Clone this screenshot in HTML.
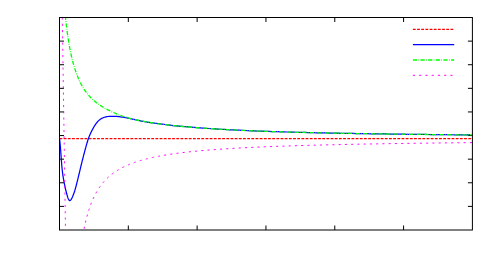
<!DOCTYPE html>
<html><head><meta charset="utf-8"><title>plot</title>
<style>
html,body{margin:0;padding:0;background:#fff;font-family:"Liberation Sans",sans-serif;}
svg{display:block}
</style></head><body>
<svg width="500" height="279" viewBox="0 0 500 279">
<rect width="500" height="279" fill="#fff"/>
<defs><clipPath id="c"><rect x="59.5" y="17.5" width="412.9" height="212.5"/></clipPath></defs>
<path d="M128.32,230.0 v-4.5 M128.32,17.5 v4.5 M197.13,230.0 v-4.5 M197.13,17.5 v4.5 M265.95,230.0 v-4.5 M265.95,17.5 v4.5 M334.77,230.0 v-4.5 M334.77,17.5 v4.5 M403.58,230.0 v-4.5 M403.58,17.5 v4.5 M59.5,41.11 h4.5 M472.4,41.11 h-4.5 M59.5,64.72 h4.5 M472.4,64.72 h-4.5 M59.5,88.33 h4.5 M472.4,88.33 h-4.5 M59.5,111.94 h4.5 M472.4,111.94 h-4.5 M59.5,135.56 h4.5 M472.4,135.56 h-4.5 M59.5,159.17 h4.5 M472.4,159.17 h-4.5 M59.5,182.78 h4.5 M472.4,182.78 h-4.5 M59.5,206.39 h4.5 M472.4,206.39 h-4.5 " stroke="#000" stroke-width="1" fill="none"/>
<g clip-path="url(#c)" fill="none" stroke-linejoin="round">
<path d="M59.5,138.6 L472.4,138.6" stroke="#ff0000" stroke-width="1.25" stroke-dasharray="2.82 1.351"/>
<path d="M59.50,138.60 L59.60,139.34 L59.69,140.08 L59.78,140.82 L59.86,141.56 L59.94,142.30 L60.02,143.04 L60.10,143.79 L60.17,144.53 L60.24,145.27 L60.31,146.01 L60.38,146.75 L60.44,147.49 L60.50,148.23 L60.56,148.97 L60.62,149.72 L60.68,150.46 L60.73,151.20 L60.79,151.94 L60.84,152.68 L60.89,153.42 L60.94,154.16 L61.00,154.91 L61.05,155.65 L61.10,156.39 L61.15,157.13 L61.20,157.87 L61.25,158.61 L61.31,159.35 L61.36,160.10 L61.41,160.84 L61.47,161.58 L61.53,162.32 L61.58,163.06 L61.64,163.80 L61.71,164.54 L61.77,165.28 L61.83,166.02 L61.90,166.77 L61.97,167.51 L62.05,168.25 L62.12,168.99 L62.20,169.73 L62.28,170.47 L62.37,171.21 L62.46,171.95 L62.55,172.69 L62.64,173.43 L62.74,174.17 L62.85,174.91 L62.96,175.66 L63.07,176.40 L63.19,177.14 L63.31,177.88 L63.43,178.61 L63.56,179.35 L63.69,180.09 L63.83,180.82 L63.97,181.55 L64.11,182.28 L64.25,183.00 L64.39,183.72 L64.54,184.44 L64.69,185.15 L64.83,185.85 L64.98,186.55 L65.13,187.25 L65.28,187.94 L65.44,188.63 L65.60,189.32 L65.76,190.02 L65.93,190.74 L66.11,191.46 L66.30,192.20 L66.50,192.96 L66.71,193.74 L66.93,194.55 L67.17,195.39 L67.43,196.26 L67.70,197.14 L67.99,197.98 L68.29,198.77 L68.61,199.46 L68.95,200.01 L69.30,200.40 L69.67,200.60 L70.05,200.56 L70.44,200.32 L70.84,199.90 L71.24,199.32 L71.64,198.63 L72.04,197.86 L72.42,197.02 L72.78,196.17 L73.12,195.32 L73.44,194.50 L73.74,193.70 L74.02,192.93 L74.28,192.18 L74.52,191.45 L74.75,190.74 L74.96,190.03 L75.17,189.34 L75.36,188.65 L75.55,187.97 L75.74,187.29 L75.92,186.60 L76.11,185.91 L76.29,185.22 L76.47,184.53 L76.65,183.83 L76.83,183.13 L77.01,182.42 L77.19,181.71 L77.36,181.00 L77.54,180.28 L77.72,179.57 L77.89,178.85 L78.07,178.13 L78.24,177.40 L78.42,176.68 L78.59,175.95 L78.77,175.22 L78.94,174.49 L79.12,173.76 L79.29,173.03 L79.47,172.30 L79.64,171.57 L79.82,170.83 L79.99,170.10 L80.16,169.37 L80.34,168.64 L80.51,167.90 L80.69,167.17 L80.86,166.44 L81.04,165.71 L81.22,164.99 L81.39,164.26 L81.57,163.54 L81.75,162.81 L81.92,162.09 L82.10,161.37 L82.28,160.66 L82.46,159.94 L82.64,159.23 L82.82,158.51 L83.01,157.80 L83.19,157.09 L83.37,156.37 L83.56,155.66 L83.74,154.95 L83.93,154.24 L84.12,153.53 L84.31,152.82 L84.50,152.10 L84.69,151.39 L84.88,150.68 L85.07,149.96 L85.27,149.24 L85.47,148.52 L85.66,147.80 L85.86,147.08 L86.07,146.36 L86.27,145.63 L86.47,144.90 L86.68,144.17 L86.89,143.44 L87.10,142.71 L87.32,141.98 L87.54,141.25 L87.76,140.53 L88.00,139.81 L88.23,139.10 L88.48,138.40 L88.73,137.70 L88.99,137.02 L89.26,136.34 L89.53,135.67 L89.81,135.00 L90.10,134.33 L90.40,133.67 L90.71,133.01 L91.03,132.36 L91.35,131.70 L91.68,131.04 L92.02,130.38 L92.37,129.72 L92.73,129.06 L93.09,128.39 L93.47,127.71 L93.85,127.04 L94.25,126.38 L94.66,125.71 L95.08,125.06 L95.51,124.42 L95.95,123.78 L96.41,123.17 L96.88,122.57 L97.37,121.99 L97.87,121.43 L98.39,120.89 L98.93,120.39 L99.48,119.91 L100.05,119.46 L100.64,119.05 L101.25,118.67 L101.88,118.32 L102.52,118.01 L103.18,117.73 L103.85,117.47 L104.54,117.25 L105.23,117.05 L105.94,116.88 L106.66,116.73 L107.38,116.60 L108.12,116.50 L108.86,116.42 L109.61,116.35 L110.36,116.30 L111.12,116.27 L111.87,116.26 L112.63,116.26 L113.39,116.27 L114.15,116.30 L114.91,116.33 L115.67,116.37 L116.42,116.43 L117.17,116.49 L117.92,116.56 L118.67,116.63 L119.41,116.72 L120.15,116.81 L120.89,116.91 L121.63,117.01 L122.37,117.12 L123.10,117.24 L123.83,117.36 L124.57,117.49 L125.30,117.62 L126.03,117.75 L126.76,117.89 L127.48,118.04 L128.21,118.19 L128.94,118.34 L129.66,118.49 L130.39,118.64 L131.11,118.80 L131.83,118.96 L132.56,119.12 L133.28,119.28 L134.00,119.44 L134.72,119.60 L135.45,119.76 L136.17,119.93 L136.89,120.09 L137.62,120.25 L138.34,120.40 L139.07,120.56 L139.79,120.72 L140.52,120.87 L141.25,121.02 L141.98,121.16 L142.71,121.31 L143.44,121.44 L144.17,121.58 L144.90,121.71 L145.64,121.84 L146.37,121.97 L147.11,122.09 L147.85,122.21 L148.58,122.32 L149.32,122.44 L150.06,122.55 L150.80,122.66 L151.54,122.76 L152.28,122.87 L153.02,122.97 L153.76,123.07 L154.50,123.17 L155.25,123.27 L155.99,123.37 L156.73,123.46 L157.47,123.56 L158.21,123.65 L158.95,123.74 L159.69,123.84 L160.43,123.93 L161.17,124.02 L161.91,124.12 L162.65,124.21 L163.39,124.31 L164.13,124.40 L164.86,124.50 L165.60,124.59 L166.33,124.69 L167.07,124.79 L167.80,124.89 L168.53,124.99 L169.26,125.09 L170.00,125.18 L173.00,125.51 L176.00,125.82 L179.00,126.11 L182.00,126.40 L185.00,126.67 L188.00,126.93 L191.00,127.18 L194.00,127.42 L197.00,127.65 L200.00,127.87 L203.00,128.09 L206.00,128.30 L209.00,128.50 L212.00,128.70 L215.00,128.89 L218.00,129.08 L221.00,129.25 L224.00,129.43 L227.00,129.60 L230.00,129.76 L233.00,129.92 L236.00,130.07 L239.00,130.22 L242.00,130.36 L245.00,130.50 L248.00,130.63 L251.00,130.76 L254.00,130.89 L257.00,131.01 L260.00,131.12 L263.00,131.23 L266.00,131.34 L269.00,131.44 L272.00,131.54 L275.00,131.64 L278.00,131.73 L281.00,131.83 L284.00,131.92 L287.00,132.00 L290.00,132.09 L293.00,132.17 L296.00,132.25 L299.00,132.33 L302.00,132.41 L305.00,132.49 L308.00,132.56 L311.00,132.63 L314.00,132.70 L317.00,132.77 L320.00,132.84 L323.00,132.90 L326.00,132.97 L329.00,133.03 L332.00,133.09 L335.00,133.15 L338.00,133.21 L341.00,133.26 L344.00,133.32 L347.00,133.37 L350.00,133.43 L353.00,133.48 L356.00,133.53 L359.00,133.58 L362.00,133.63 L365.00,133.67 L368.00,133.72 L371.00,133.77 L374.00,133.81 L377.00,133.86 L380.00,133.90 L383.00,133.94 L386.00,133.98 L389.00,134.03 L392.00,134.07 L395.00,134.11 L398.00,134.14 L401.00,134.18 L404.00,134.22 L407.00,134.26 L410.00,134.29 L413.00,134.33 L416.00,134.37 L419.00,134.40 L422.00,134.43 L425.00,134.47 L428.00,134.50 L431.00,134.53 L434.00,134.57 L437.00,134.60 L440.00,134.63 L443.00,134.66 L446.00,134.69 L449.00,134.72 L452.00,134.75 L455.00,134.78 L458.00,134.80 L461.00,134.83 L464.00,134.86 L467.00,134.89 L470.00,134.91" stroke="#0000ff" stroke-width="1.25"/>
<path d="M64.50,7.37 L65.00,12.74 L65.50,17.69 L66.00,22.26 L66.50,26.50 L67.00,30.44 L67.50,34.11 L68.00,37.54 L68.50,40.75 L69.00,43.76 L69.50,46.60 L70.00,49.26 L70.50,51.78 L71.00,54.16 L71.50,56.41 L72.00,58.54 L72.50,60.56 L73.00,62.49 L73.50,64.31 L74.00,66.06 L74.50,67.72 L75.00,69.31 L75.50,70.82 L76.00,72.27 L76.50,73.66 L77.00,74.99 L77.50,76.27 L78.00,77.50 L78.50,78.68 L79.00,79.81 L79.50,80.90 L80.00,81.95 L80.50,82.96 L81.00,83.93 L81.50,84.87 L82.00,85.77 L82.50,86.65 L83.00,87.49 L83.50,88.30 L84.00,89.09 L84.50,89.85 L85.00,90.58 L85.50,91.30 L86.00,91.99 L86.50,92.66 L87.00,93.30 L87.50,93.93 L88.00,94.54 L88.50,95.13 L89.00,95.71 L89.50,96.27 L90.00,96.81 L90.50,97.34 L91.00,97.86 L91.50,98.36 L92.00,98.85 L92.50,99.32 L93.00,99.77 L93.50,100.22 L94.00,100.65 L94.50,101.07 L95.00,101.48 L95.50,101.88 L96.00,102.28 L96.50,102.66 L97.00,103.04 L97.50,103.41 L98.00,103.77 L98.50,104.13 L99.00,104.48 L99.50,104.83 L100.00,105.18 L100.50,105.52 L101.00,105.86 L101.50,106.18 L102.00,106.50 L102.50,106.82 L103.00,107.13 L103.50,107.43 L104.00,107.73 L104.50,108.02 L105.00,108.31 L105.50,108.59 L106.00,108.87 L106.50,109.14 L107.00,109.41 L107.50,109.67 L108.00,109.93 L108.50,110.18 L109.00,110.43 L109.50,110.67 L110.00,110.91 L110.50,111.15 L111.00,111.38 L111.50,111.61 L112.00,111.84 L112.50,112.07 L113.00,112.30 L113.50,112.53 L114.00,112.75 L114.50,112.98 L115.00,113.20 L115.50,113.41 L116.00,113.63 L116.50,113.84 L117.00,114.05 L117.50,114.26 L118.00,114.46 L118.50,114.66 L119.00,114.85 L119.50,115.04 L120.00,115.22 L123.00,116.26 L126.00,117.21 L129.00,118.09 L132.00,118.88 L135.00,119.59 L138.00,120.25 L141.00,120.87 L144.00,121.44 L147.00,121.98 L150.00,122.48 L153.00,122.95 L156.00,123.40 L159.00,123.82 L162.00,124.22 L165.00,124.59 L168.00,124.95 L171.00,125.29 L174.00,125.61 L177.00,125.92 L180.00,126.21 L183.00,126.49 L186.00,126.76 L189.00,127.01 L192.00,127.26 L195.00,127.50 L198.00,127.73 L201.00,127.95 L204.00,128.16 L207.00,128.37 L210.00,128.57 L213.00,128.76 L216.00,128.95 L219.00,129.14 L222.00,129.31 L225.00,129.48 L228.00,129.65 L231.00,129.81 L234.00,129.97 L237.00,130.12 L240.00,130.27 L243.00,130.41 L246.00,130.54 L249.00,130.68 L252.00,130.80 L255.00,130.93 L258.00,131.04 L261.00,131.16 L264.00,131.27 L267.00,131.37 L270.00,131.47 L273.00,131.57 L276.00,131.67 L279.00,131.76 L282.00,131.86 L285.00,131.95 L288.00,132.03 L291.00,132.12 L294.00,132.20 L297.00,132.28 L300.00,132.36 L303.00,132.44 L306.00,132.51 L309.00,132.58 L312.00,132.66 L315.00,132.72 L318.00,132.79 L321.00,132.86 L324.00,132.92 L327.00,132.99 L330.00,133.05 L333.00,133.11 L336.00,133.17 L339.00,133.23 L342.00,133.28 L345.00,133.34 L348.00,133.39 L351.00,133.44 L354.00,133.49 L357.00,133.54 L360.00,133.59 L363.00,133.64 L366.00,133.69 L369.00,133.74 L372.00,133.78 L375.00,133.83 L378.00,133.87 L381.00,133.91 L384.00,133.96 L387.00,134.00 L390.00,134.04 L393.00,134.08 L396.00,134.12 L399.00,134.16 L402.00,134.20 L405.00,134.23 L408.00,134.27 L411.00,134.31 L414.00,134.34 L417.00,134.38 L420.00,134.41 L423.00,134.45 L426.00,134.48 L429.00,134.51 L432.00,134.54 L435.00,134.58 L438.00,134.61 L441.00,134.64 L444.00,134.67 L447.00,134.70 L450.00,134.73 L453.00,134.76 L456.00,134.79 L459.00,134.81 L462.00,134.84 L465.00,134.87 L468.00,134.90 L471.00,134.92 L472.40,134.93" stroke="#00ff00" stroke-width="1.3" stroke-dasharray="4.16 1.39 0.69 1.39" stroke-dashoffset="-0.8"/>
<path d="M62.31,17.5 L65.49,230" stroke="#ff00ff" stroke-width="0.9" stroke-dasharray="2.1 4.15" stroke-dashoffset="0"/>
<path d="M80.00,254.98 L80.50,250.98 L81.00,247.24 L81.50,243.75 L82.00,240.47 L82.50,237.39 L83.00,234.49 L83.50,231.76 L84.00,229.18 L84.50,226.73 L85.00,224.42 L85.50,222.22 L86.00,220.14 L86.50,218.15 L87.00,216.26 L87.50,214.46 L88.00,212.74 L88.50,211.09 L89.00,209.52 L89.50,208.01 L90.00,206.57 L90.50,205.19 L91.00,203.86 L91.50,202.58 L92.00,201.35 L92.50,200.17 L93.00,199.03 L93.50,197.93 L94.00,196.87 L94.50,195.85 L95.00,194.87 L95.50,193.91 L96.00,192.99 L96.50,192.10 L97.00,191.24 L97.50,190.41 L98.00,189.60 L98.50,188.82 L99.00,188.06 L99.50,187.32 L100.00,186.60 L100.50,185.91 L101.00,185.23 L101.50,184.58 L102.00,183.94 L102.50,183.32 L103.00,182.71 L103.50,182.13 L104.00,181.55 L104.50,181.00 L105.00,180.45 L105.50,179.93 L106.00,179.41 L106.50,178.91 L107.00,178.41 L107.50,177.94 L108.00,177.47 L108.50,177.01 L109.00,176.56 L109.50,176.13 L110.00,175.70 L110.50,175.29 L111.00,174.88 L111.50,174.48 L112.00,174.09 L112.50,173.71 L113.00,173.34 L113.50,172.97 L114.00,172.61 L114.50,172.26 L115.00,171.92 L115.50,171.58 L116.00,171.25 L116.50,170.93 L117.00,170.61 L117.50,170.30 L118.00,170.00 L118.50,169.70 L119.00,169.41 L119.50,169.12 L120.00,168.84 L120.50,168.56 L121.00,168.29 L121.50,168.02 L122.00,167.76 L122.50,167.50 L123.00,167.25 L123.50,167.00 L124.00,166.75 L124.50,166.51 L125.00,166.28 L125.50,166.04 L126.00,165.82 L126.50,165.59 L127.00,165.37 L127.50,165.15 L128.00,164.94 L128.50,164.73 L129.00,164.52 L129.50,164.32 L130.00,164.12 L130.50,163.92 L131.00,163.72 L131.50,163.53 L132.00,163.34 L132.50,163.16 L133.00,162.97 L133.50,162.79 L134.00,162.62 L134.50,162.44 L135.00,162.27 L135.50,162.10 L136.00,161.93 L136.50,161.76 L137.00,161.60 L137.50,161.44 L138.00,161.28 L138.50,161.13 L139.00,160.97 L139.50,160.82 L140.00,160.67 L140.50,160.52 L141.00,160.38 L141.50,160.23 L142.00,160.09 L142.50,159.95 L143.00,159.81 L143.50,159.67 L144.00,159.54 L144.50,159.40 L145.00,159.27 L145.50,159.14 L146.00,159.01 L146.50,158.89 L147.00,158.76 L147.50,158.64 L148.00,158.52 L148.50,158.40 L149.00,158.28 L149.50,158.16 L150.00,158.04 L150.50,157.93 L151.00,157.81 L151.50,157.70 L152.00,157.59 L152.50,157.48 L153.00,157.37 L153.50,157.27 L154.00,157.16 L154.50,157.05 L155.00,156.95 L155.50,156.85 L156.00,156.75 L156.50,156.65 L157.00,156.55 L157.50,156.45 L158.00,156.35 L158.50,156.26 L159.00,156.16 L159.50,156.07 L160.00,155.98 L163.00,155.44 L166.00,154.93 L169.00,154.46 L172.00,154.01 L175.00,153.59 L178.00,153.18 L181.00,152.80 L184.00,152.44 L187.00,152.10 L190.00,151.77 L193.00,151.46 L196.00,151.17 L199.00,150.88 L202.00,150.61 L205.00,150.35 L208.00,150.10 L211.00,149.87 L214.00,149.64 L217.00,149.42 L220.00,149.21 L223.00,149.00 L226.00,148.81 L229.00,148.62 L232.00,148.44 L235.00,148.27 L238.00,148.10 L241.00,147.94 L244.00,147.78 L247.00,147.63 L250.00,147.48 L253.00,147.34 L256.00,147.20 L259.00,147.06 L262.00,146.94 L265.00,146.81 L268.00,146.69 L271.00,146.57 L274.00,146.45 L277.00,146.34 L280.00,146.23 L283.00,146.13 L286.00,146.03 L289.00,145.93 L292.00,145.83 L295.00,145.73 L298.00,145.64 L301.00,145.55 L304.00,145.46 L307.00,145.38 L310.00,145.30 L313.00,145.21 L316.00,145.13 L319.00,145.06 L322.00,144.98 L325.00,144.91 L328.00,144.84 L331.00,144.77 L334.00,144.70 L337.00,144.63 L340.00,144.56 L343.00,144.50 L346.00,144.43 L349.00,144.37 L352.00,144.31 L355.00,144.25 L358.00,144.20 L361.00,144.14 L364.00,144.08 L367.00,144.03 L370.00,143.97 L373.00,143.92 L376.00,143.87 L379.00,143.82 L382.00,143.77 L385.00,143.72 L388.00,143.67 L391.00,143.63 L394.00,143.58 L397.00,143.54 L400.00,143.49 L403.00,143.45 L406.00,143.41 L409.00,143.36 L412.00,143.32 L415.00,143.28 L418.00,143.24 L421.00,143.20 L424.00,143.16 L427.00,143.13 L430.00,143.09 L433.00,143.05 L436.00,143.02 L439.00,142.98 L442.00,142.95 L445.00,142.91 L448.00,142.88 L451.00,142.84 L454.00,142.81 L457.00,142.78 L460.00,142.75 L463.00,142.72 L466.00,142.68 L469.00,142.65 L472.00,142.62 L472.40,142.62" stroke="#ff00ff" stroke-width="0.95" stroke-dasharray="2.1 4.15" stroke-dashoffset="-1.5"/>
</g>
<rect x="59.5" y="17.5" width="412.9" height="212.5" fill="none" stroke="#000" stroke-width="1"/>
<g fill="none">
<path d="M412.9,29.3 H454.2" stroke="#ff0000" stroke-width="1.25" stroke-dasharray="2.82 1.351"/>
<path d="M412.9,44.6 H454.2" stroke="#0000ff" stroke-width="1.25"/>
<path d="M412.9,60.0 H454.2" stroke="#00ff00" stroke-width="1.3" stroke-dasharray="4.16 1.39 0.69 1.39"/>
<path d="M412.9,75.3 H454.2" stroke="#ff00ff" stroke-width="1.0" stroke-dasharray="2.1 4.15"/>
</g>
</svg>
</body></html>
